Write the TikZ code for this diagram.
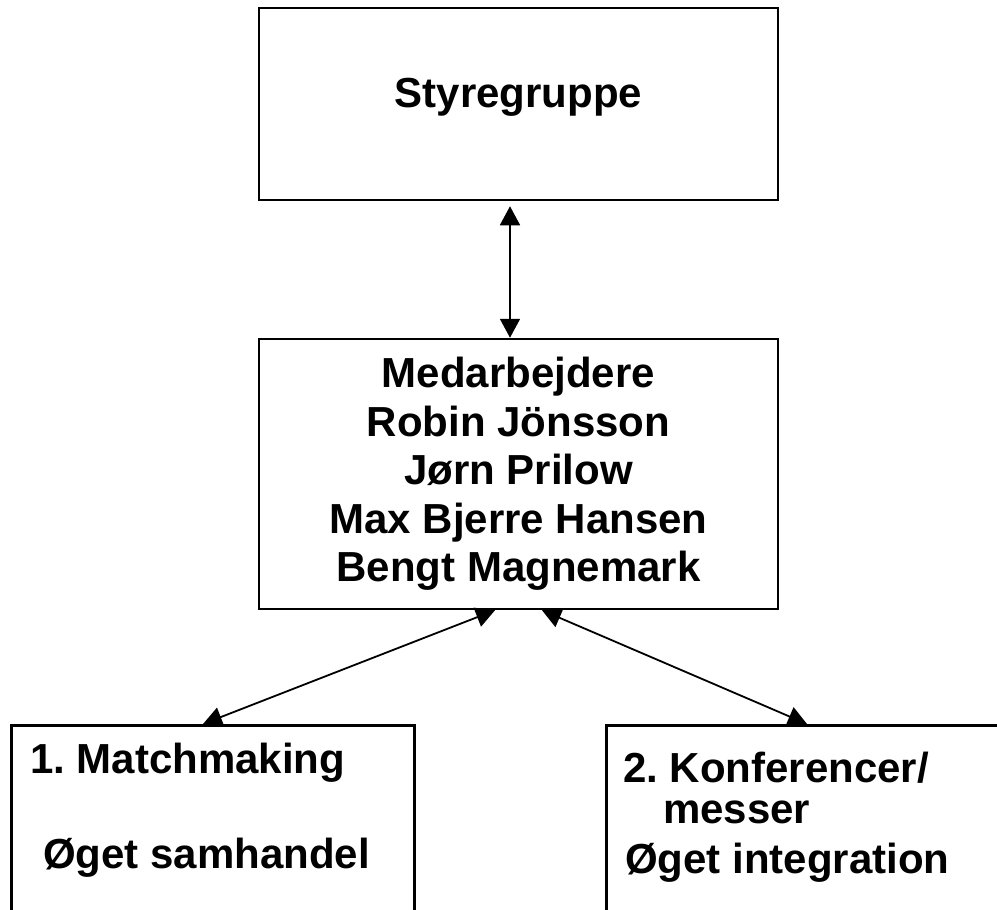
\documentclass[tikz,border=0pt]{standalone}
\usepackage{fontspec}
\setmainfont{Liberation Sans}
\usetikzlibrary{arrows.meta}

\begin{document}
\begin{tikzpicture}[x=1pt, y=-1pt,
		box/.style={draw, line width=2.5pt, inner sep=0pt},
		txt/.style={inner sep=0pt, font=\frenchspacing\bfseries\fontsize{42}{48.5}\selectfont},
		link/.style={{Triangle[length=19pt,width=20pt]}-{Triangle[length=19pt,width=20pt]}, line width=1.8pt}]
		\useasboundingbox (0, 0) rectangle (997, 910);
		\clip (0, 0) rectangle (997, 910);
		\draw[color=black]
		node[box,txt,minimum width=519,minimum height=192,text height=31pt,text depth=25pt] (styr) at (518.5, 104){Styregruppe}
		node[box,txt,align=center,minimum width=519,minimum height=270] (medarb) at (518.5, 474){Medarbejdere\\Robin Jönsson\\Jørn Prilow\\Max Bjerre Hansen\\Bengt Magnemark}
		node[box,minimum width=403,minimum height=300,anchor=north west] (match) at (10, 724){}
		node[box,minimum width=500,minimum height=300,anchor=north west] (konf) at (605, 724){}
		node[txt,anchor=base west] (match_title) at (30, 773){1. Matchmaking}
		node[txt,anchor=base west] (match_goal) at (43, 868){Øget samhandel}
		node[txt,anchor=base west] (konf_title) at (623, 782){2. Konferencer/}
		node[txt,anchor=base west] (konf_sub) at (663, 823){messer}
		node[txt,anchor=base west] (konf_goal) at (625, 873){Øget integration};
		\draw [link, shorten <=5pt] ([xshift=-8.5pt]styr.south) -- ([xshift=-8.5pt]medarb.north);
		\draw [link] ([xshift=-23.5pt]medarb.south) -- ([xshift=193pt]match.north west);
		\draw [link] ([xshift=23.5pt]medarb.south) -- ([xshift=202pt]konf.north west);
\end{tikzpicture}
\end{document}
